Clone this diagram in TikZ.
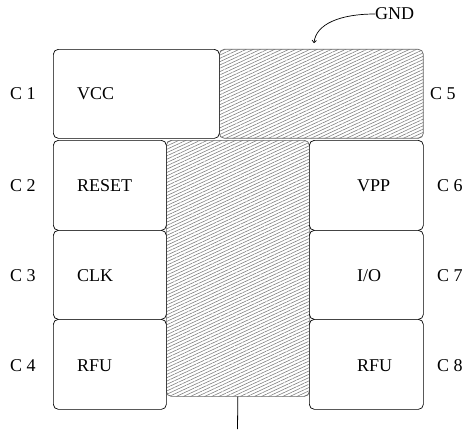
\documentclass[tikz,border=0pt]{standalone}
\usepackage{fontspec}
\setmainfont{Liberation Serif}
\usetikzlibrary{patterns.meta,arrows.meta}
\begin{document}
\begin{tikzpicture}[x=1pt,y=-1pt,
  every node/.style={font=\fontsize{18}{20}\selectfont},
  pinbox/.style={draw=black,line width=0.7pt,rounded corners=5pt,fill=white,anchor=north west,inner sep=0pt},
  hatchbox/.style={draw=gray!80!black,line width=0.7pt,rounded corners=5pt,anchor=north west,inner sep=0pt,
    pattern={Lines[angle=25,distance=3pt,line width=0.6pt]},pattern color=gray},
  pintext/.style={anchor=west,inner sep=0pt},
  cnum/.style={anchor=west,inner sep=0pt}]
\useasboundingbox (0,0) rectangle (465,429);
% boxes
\node[hatchbox,minimum width=204pt,minimum height=89pt] (gnd) at (219,49) {};
\node[hatchbox,minimum width=143pt,minimum height=256pt] (mid) at (166,140) {};
\node[pinbox,minimum width=166pt,minimum height=89pt] (vcc) at (53,49) {};
\node[pinbox,minimum width=113pt,minimum height=90pt] (reset) at (53,140) {};
\node[pinbox,minimum width=113pt,minimum height=89pt] (clk) at (53,230) {};
\node[pinbox,minimum width=113pt,minimum height=90pt] (rfua) at (53,319) {};
\node[pinbox,minimum width=114pt,minimum height=90pt] (vpp) at (309,140) {};
\node[pinbox,minimum width=114pt,minimum height=89pt] (io) at (309,230) {};
\node[pinbox,minimum width=114pt,minimum height=90pt] (rfub) at (309,319) {};
% texts in boxes
\node[pintext] (tvcc) at (77,94) {VCC};
\node[pintext] (treset) at (77,186) {RESET};
\node[pintext] (tclk) at (77,276) {CLK};
\node[pintext] (trfua) at (77,366) {RFU};
\node[pintext] (tvpp) at (357,186) {VPP};
\node[pintext] (tio) at (357,276) {I/O};
\node[pintext] (trfub) at (357,366) {RFU};
% contact numbers
\node[cnum] (c1) at (10,94) {C 1};
\node[cnum] (c2) at (10,186) {C 2};
\node[cnum] (c3) at (10,276) {C 3};
\node[cnum] (c4) at (10,366) {C 4};
\node[cnum] (c5) at (430,94) {C 5};
\node[cnum] (c6) at (437,186) {C 6};
\node[cnum] (c7) at (437,276) {C 7};
\node[cnum] (c8) at (437,366) {C 8};
% GND label and arrow
\node[pintext] (gndlabel) at (375,14) {GND};
\coordinate (gndtip) at (314,43);
\draw[line width=0.7pt,-{To[length=3pt,width=5pt]}] (gndlabel.west) .. controls (340,14) and (316,24) .. (gndtip);
% bottom lead
\coordinate (lead) at (237.5,429);
\draw[line width=0.8pt] (mid.south) -- (lead);
\end{tikzpicture}
\end{document}
